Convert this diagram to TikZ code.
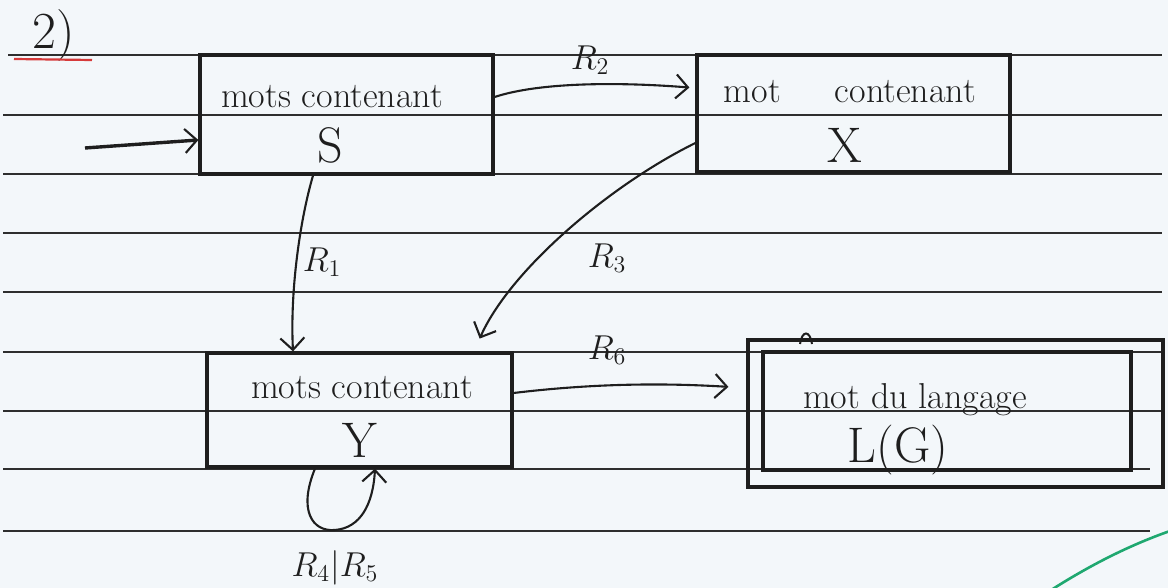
\documentclass[tikz,border=0pt]{standalone}
\usetikzlibrary{arrows.meta,fit}
\definecolor{paper}{HTML}{F3F7FA}
\definecolor{ink}{HTML}{1E1E1E}
\definecolor{rulecol}{HTML}{2E2E2E}
\definecolor{redpen}{HTML}{D63A3A}
\definecolor{greenpen}{HTML}{1FA870}
\begin{document}
\begin{tikzpicture}[x=0.5pt,y=-0.5pt,
  ruled/.style={rulecol,line width=1.25pt},
  box/.style={draw=ink,line width=1.6pt,inner sep=0pt},
  conn/.style={ink,line width=1.05pt,-{Straight Barb[length=6pt,width=12pt,line width=1.05pt]}},
  txt/.style={font=\fontsize{18}{20}\selectfont,text=ink,inner sep=0pt},
  big/.style={font=\fontsize{25}{27}\selectfont,text=ink,inner sep=0pt},
  lbl/.style={font=\fontsize{18}{20}\selectfont,text=ink,inner sep=0pt}]

\fill[paper] (0,0) rectangle (1168,588);
\useasboundingbox (0,0) rectangle (1168,588);

% ruled lines
\draw[ruled] (8,55) -- (1162,55);
\foreach \yy in {115,174,233,292,352,411} \draw[ruled] (3,\yy) -- (1162,\yy);
\draw[ruled] (3,469) -- (1150,469);
\draw[ruled] (3,531) -- (1150,531);

% title
\node[font=\fontsize{26}{28}\selectfont,text=ink,inner sep=0pt] (num) at (54,36) {2)};
\draw[redpen,line width=1.1pt] (14,59) -- (92,60);

% boxes
\node[box,fit={(200,55)(493,174)}] (S) {};
\node[box,fit={(697,55)(1010,172)}] (X) {};
\node[box,fit={(207,353)(512,467)}] (Y) {};
\node[box,fit={(748,340)(1163,487)}] (Lo) {};
\node[box,fit={(763,352)(1131,470)}] (L) {};

% texts
\node[txt] (tS) at (332,97) {mots contenant};
\node[big] (S1) at (330,145) {S};
\node[txt] (tX) at (850,92) {mot\hspace{1.5em}contenant};
\node[big] (X1) at (845,145) {X};
\node[txt] (tY) at (362,388) {mots contenant};
\node[big] (Y1) at (360,440) {Y};
\node[txt] (tL) at (915,400) {mot du langage};
\node[big] (L1) at (898,450) {L(G)};

% helper coordinates
\coordinate (h140) at (0,140);
\coordinate (h97) at (0,97);
\coordinate (h88) at (0,88);
\coordinate (h143) at (0,143);
\coordinate (h393) at (0,393);
\coordinate (h388) at (0,388);
\coordinate (v313) at (313,0);
\coordinate (v293) at (293,0);
\coordinate (v474) at (474,0);
\coordinate (v315) at (315,0);
\coordinate (v375) at (375,0);
\coordinate (init) at (85,148);

% connectors
\draw[conn,line width=1.7pt] (init) -- (S.west |- h140);
\draw[conn,shorten >=3pt] (S.east |- h97) .. controls (540,82) and (620,82) .. (X.west |- h88);
\draw[conn] (S.south -| v313) .. controls (300,220) and (290,290) .. (Y.north -| v293);
\draw[conn,shorten >=7pt] (X.west |- h143) .. controls (610,185) and (510,270) .. (Y.north -| v474);
\draw[conn,shorten >=9pt] (Y.east |- h393) .. controls (580,385) and (650,382) .. (Lo.west |- h388);
\draw[conn] (Y.south -| v315) .. controls (298,510) and (312,532) .. (335,530)
  .. controls (360,528) and (373,505) .. (Y.south -| v375);

% labels
\node[lbl] (l2) at (590,60) {$R_2$};
\node[lbl] (l1) at (322,262) {$R_1$};
\node[lbl] (l3) at (607,258) {$R_3$};
\node[lbl] (l6) at (607,350) {$R_6$};
\node[lbl] (l45) at (335,568) {$R_4|R_5$};

% small mark above final box
\draw[ink,line width=1pt] (800,344) .. controls (802,330) and (810,330) .. (812,344);

% green pen stroke
\draw[greenpen,line width=1.3pt] (1048,592) .. controls (1090,565) and (1130,545) .. (1170,531);
\end{tikzpicture}
\end{document}
